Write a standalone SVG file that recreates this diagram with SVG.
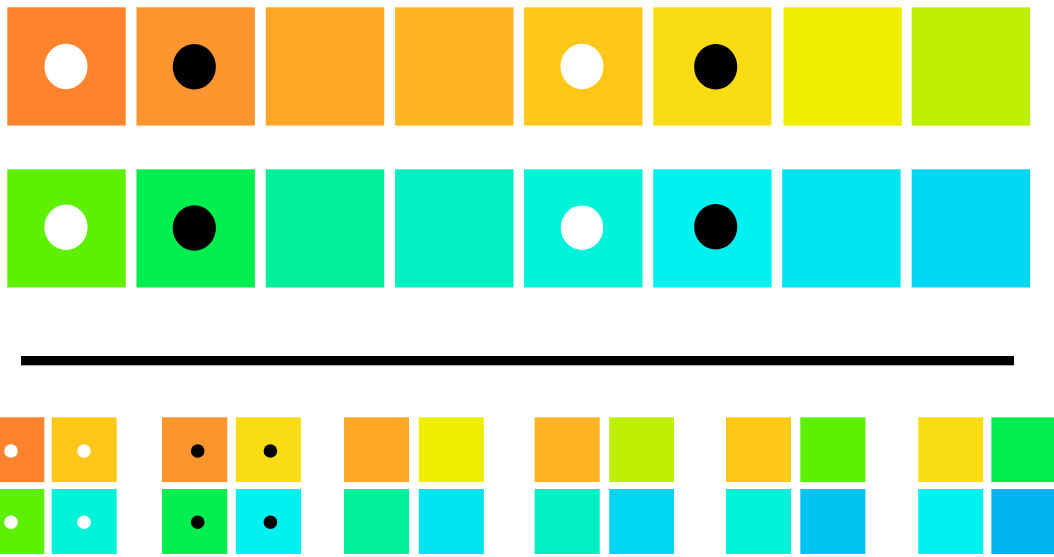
<svg xmlns="http://www.w3.org/2000/svg" width="1054" height="557" viewBox="0 0 1054 557">
<style>
.w{fill:#ffffff}
.b{fill:#000000}
.c1{fill:#FF822C}.c2{fill:#FF952E}.c3{fill:#FFA827}.c4{fill:#FFB523}
.c5{fill:#FFC818}.c6{fill:#FADC14}.c7{fill:#EDEE00}.c8{fill:#BDF000}
.d1{fill:#5DF000}.d2{fill:#00EE4E}.d3{fill:#00F09A}.d4{fill:#00F0C4}
.d5{fill:#00F2D8}.d6{fill:#00F2F0}.d7{fill:#00E4F0}.d8{fill:#00D6F2}
.d9{fill:#00C4F2}.d10{fill:#00B4F2}
</style>
<rect width="1054" height="557" fill="#ffffff"/>
<g id="row1">
<rect class="c1" x="7.3" y="7.3" width="118.4" height="118.3"/>
<rect class="c2" x="136.5" y="7.3" width="118.4" height="118.3"/>
<rect class="c3" x="265.8" y="7.3" width="118.4" height="118.3"/>
<rect class="c4" x="395.1" y="7.3" width="118.4" height="118.3"/>
<rect class="c5" x="524.1" y="7.3" width="118.4" height="118.3"/>
<rect class="c6" x="653.2" y="7.3" width="118.4" height="118.3"/>
<rect class="c7" x="783.5" y="7.3" width="118.4" height="118.3"/>
<rect class="c8" x="911.7" y="7.3" width="118.4" height="118.3"/>
<ellipse class="w" cx="66" cy="66.5" rx="21.6" ry="22.8"/>
<ellipse class="b" cx="194.3" cy="66.7" rx="21.6" ry="22.7"/>
<ellipse class="w" cx="582" cy="66.5" rx="21.5" ry="22.7"/>
<ellipse class="b" cx="715.7" cy="66.7" rx="21.6" ry="22.7"/>
</g>
<g id="row2">
<rect class="d1" x="7.3" y="169.3" width="118.4" height="118.2"/>
<rect class="d2" x="136.5" y="169.3" width="118.4" height="118.2"/>
<rect class="d3" x="265.8" y="169.3" width="118.4" height="118.2"/>
<rect class="d4" x="395.1" y="169.3" width="118.4" height="118.2"/>
<rect class="d5" x="524.1" y="169.3" width="118.4" height="118.2"/>
<rect class="d6" x="653.2" y="169.3" width="118.4" height="118.2"/>
<rect class="d7" x="782.2" y="169.3" width="118.4" height="118.2"/>
<rect class="d8" x="911.7" y="169.3" width="118.4" height="118.2"/>
<ellipse class="w" cx="66" cy="227.3" rx="21.6" ry="22.7"/>
<ellipse class="b" cx="194.3" cy="228" rx="21.6" ry="22.7"/>
<ellipse class="w" cx="582" cy="227.7" rx="21.3" ry="22.3"/>
<ellipse class="b" cx="715.7" cy="226.7" rx="21.6" ry="22.7"/>
</g>
<g id="divider">
<rect class="b" x="21" y="356" width="993" height="9.3"/>
</g>
<g id="group1">
<rect class="c1" x="-20.7" y="417.3" width="65" height="64.8"/>
<rect class="c5" x="51.7" y="417.3" width="65" height="64.8"/>
<rect class="d1" x="-20.7" y="489" width="65" height="65"/>
<rect class="d5" x="51.7" y="489" width="65" height="65"/>
<circle class="w" cx="11" cy="451" r="6.8"/>
<circle class="w" cx="84" cy="451" r="6.8"/>
<circle class="w" cx="11" cy="522.3" r="6.8"/>
<circle class="w" cx="84" cy="522.3" r="6.8"/>
</g>
<g id="group2">
<rect class="c2" x="162" y="417.3" width="65.3" height="64.8"/>
<rect class="c6" x="235.8" y="417.3" width="65.2" height="64.8"/>
<rect class="d2" x="162" y="489" width="65.3" height="65"/>
<rect class="d6" x="235.8" y="489" width="65.2" height="65"/>
<circle class="b" cx="197.7" cy="451" r="6.8"/>
<circle class="b" cx="270.4" cy="451" r="6.8"/>
<circle class="b" cx="197.7" cy="522.3" r="6.8"/>
<circle class="b" cx="270.4" cy="522.3" r="6.8"/>
</g>
<g id="group3">
<rect class="c3" x="344" y="417.3" width="65" height="64.8"/>
<rect class="c7" x="418.8" y="417.3" width="65" height="64.8"/>
<rect class="d3" x="344" y="489" width="65" height="65"/>
<rect class="d7" x="418.8" y="489" width="65" height="65"/>
</g>
<g id="group4">
<rect class="c4" x="534.6" y="417.3" width="65.1" height="64.8"/>
<rect class="c8" x="609.2" y="417.3" width="64.8" height="64.8"/>
<rect class="d4" x="534.6" y="489" width="65.1" height="65"/>
<rect class="d8" x="609.2" y="489" width="64.8" height="65"/>
</g>
<g id="group5">
<rect class="c5" x="726" y="417.3" width="65" height="64.8"/>
<rect class="d1" x="800.3" y="417.3" width="65.1" height="64.8"/>
<rect class="d5" x="726" y="489" width="65" height="65"/>
<rect class="d9" x="800.3" y="489" width="65.1" height="65"/>
</g>
<g id="group6">
<rect class="c6" x="918.2" y="417.3" width="65" height="64.8"/>
<rect class="d2" x="991.4" y="417.3" width="65" height="64.8"/>
<rect class="d6" x="918.2" y="489" width="65" height="65"/>
<rect class="d10" x="991.4" y="489" width="65" height="65"/>
</g>
</svg>
